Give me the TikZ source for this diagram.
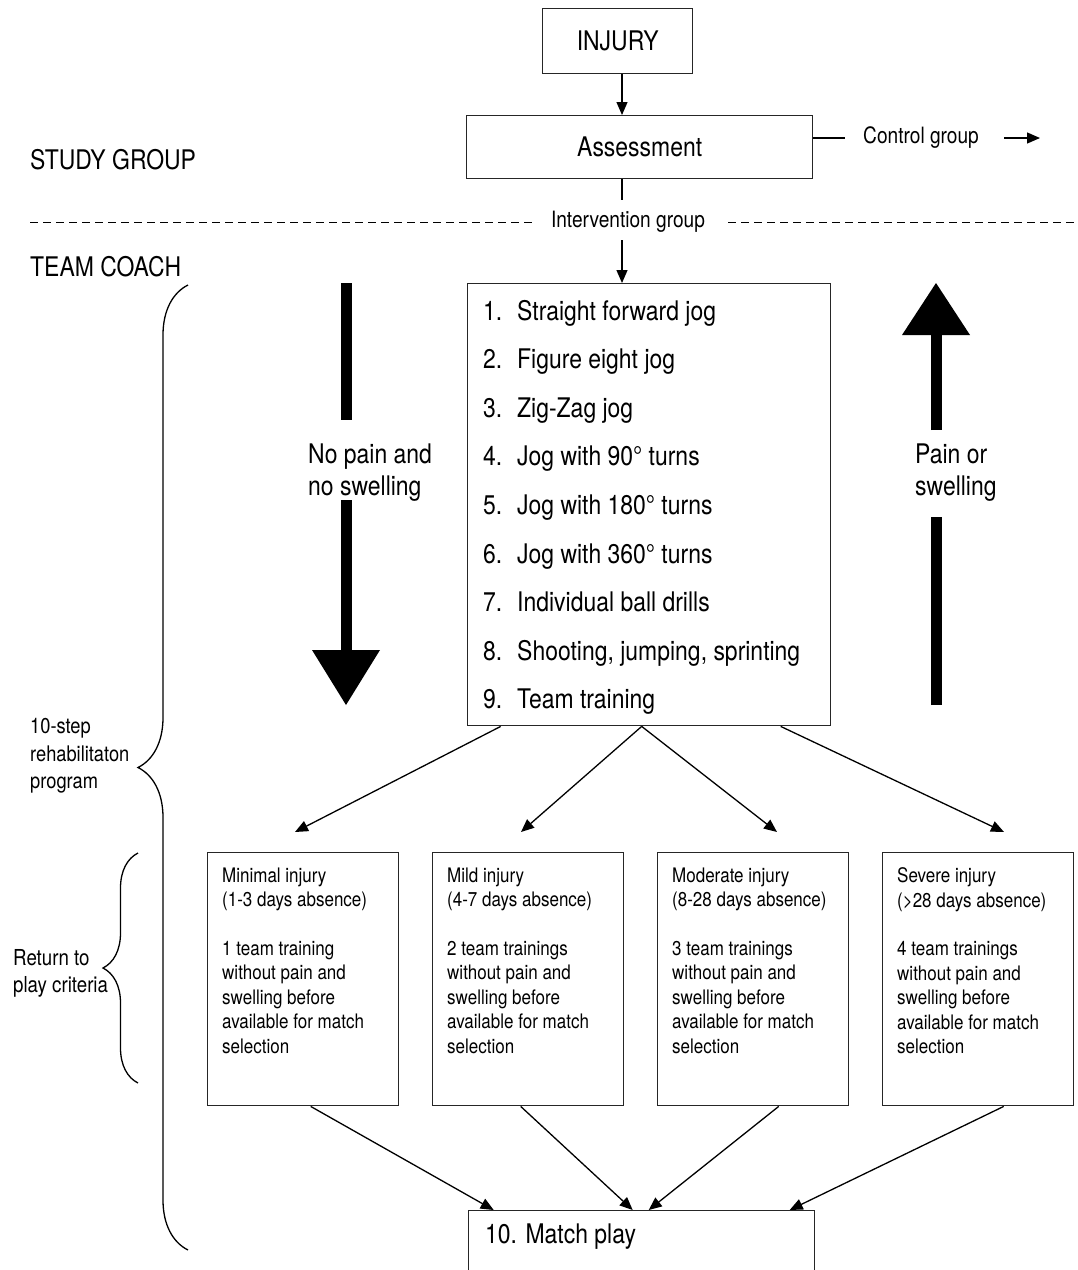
\documentclass[tikz,border=0pt]{standalone}
\usepackage{fontspec}
\setmainfont{TeX Gyre Heros}[FakeStretch=0.85]
\usetikzlibrary{arrows.meta,decorations.pathreplacing}
\begin{document}
\begin{tikzpicture}[x=1pt,y=-1pt,
  bx/.style={draw=black!85, line width=1.4pt, inner sep=0pt},
  bigt/.style={font=\fontsize{27}{32}\selectfont, inner sep=0pt},
  medt/.style={font=\fontsize{22.5}{27.5}\selectfont, inner sep=0pt},
  smlt/.style={font=\fontsize{20}{24.4}\selectfont, inner sep=0pt, align=left},
  arr/.style={line width=1.3pt, -{Triangle[length=13pt,width=11pt]}},
  dline/.style={line width=1pt, dash pattern=on 8pt off 5pt},
  shaft/.style={line width=11pt},
  bracestyle/.style={line width=1.3pt, decorate},
]
\useasboundingbox (0,0) rectangle (1078,1270);
\clip (0,0) rectangle (1078,1270);

% top boxes
\node[bx, bigt, minimum width=150pt, minimum height=65pt, anchor=north west] (injury) at (542,8) {INJURY};
\node[bx, bigt, minimum width=346pt, minimum height=63pt, anchor=north west] (assess) at (466,115) {Assessment};
\draw[arr] (injury.south -| 622,0) -- (assess.north -| 622,0);

\node[medt, anchor=west] (cg) at (863,138) {Control group};
\coordinate (cgend) at (1040,138);
\draw[line width=1.3pt, shorten >=18pt] (assess.east |- cg.west) -- (cg.west);
\draw[arr, shorten <=25pt] (cg.east) -- (cgend);

\node[bigt, anchor=west] (study) at (30,160) {STUDY GROUP};
\node[bigt, anchor=west] (coach) at (30,267) {TEAM COACH};

% intervention
\node[medt, anchor=center] (ig) at (628,222) {Intervention group};
\coordinate (dl) at (30,222);
\coordinate (dr) at (1078,222);
\coordinate (assdown) at (622,200);
\draw[line width=1.3pt] (assess.south -| assdown) -- (assdown);
\draw[dline, shorten >=16pt] (dl) -- (ig.west);
\draw[dline, shorten <=23pt] (ig.east) -- (dr);

% steps box
\node[bx, minimum width=363pt, minimum height=442pt, anchor=north west] (steps) at (467,283) {};
\coordinate (igdown) at (622,240);
\draw[arr] (igdown) -- (steps.north -| igdown);

\foreach \t [count=\i] in {Straight forward jog, Figure eight jog, Zig-Zag jog, Jog with 90° turns, Jog with 180° turns, Jog with 360° turns, Individual ball drills, {Shooting, jumping, sprinting}, Team training}{
  \pgfmathsetmacro\yy{320+48.6*(\i-1)}
  \node[bigt, anchor=base west] (num\i) at (483,\yy) {\i.};
  \node[bigt, anchor=base west] (item\i) at (517,\yy) {\t};
}

% big arrows
\node[bigt, align=left, anchor=west] (nopain) at (308,473) {No pain and\\no swelling};
\node[bigt, align=left, anchor=west] (pain) at (915,473) {Pain or\\swelling};
\draw[shaft] (346,283) -- (346,420);
\draw[shaft] (346,500) -- (346,652);
\fill (312,650) -- (380,650) -- (346,705) -- cycle;
\draw[shaft] (936,705) -- (936,517);
\draw[shaft] (936,430) -- (936,333);
\fill (902,335) -- (970,335) -- (936,283) -- cycle;

% left labels and braces
\node[medt, align=left, anchor=west, font=\fontsize{21.5}{27.5}\selectfont] (tenstep) at (30,756) {10-step\\rehabilitaton\\program};
\draw[bracestyle, decoration={brace, amplitude=50pt}] (188,1250) -- (188,285);
\node[medt, align=left, anchor=west, font=\fontsize{22}{27}\selectfont] (rtp) at (13,973) {Return to\\play criteria};
\draw[bracestyle, decoration={brace, amplitude=35pt}] (138,1083) -- (138,853);

% criteria boxes
\node[bx, minimum width=191pt, minimum height=253pt, anchor=north west] (c1) at (207,852) {};
\node[bx, minimum width=191pt, minimum height=253pt, anchor=north west] (c2) at (432,852) {};
\node[bx, minimum width=191pt, minimum height=253pt, anchor=north west] (c3) at (657,852) {};
\node[bx, minimum width=191pt, minimum height=253pt, anchor=north west] (c4) at (882,852) {};

\node[smlt, anchor=north west] (t1) at (222,867.5) {Minimal injury\\(1-3 days absence)\\[24.4pt]1 team training\\without pain and\\swelling before\\available for match\\selection};
\node[smlt, anchor=north west] (t2) at (447,867.5) {Mild injury\\(4-7 days absence)\\[24.4pt]2 team trainings\\without pain and\\swelling before\\available for match\\selection};
\node[smlt, anchor=north west] (t3) at (672,867.5) {Moderate injury\\(8-28 days absence)\\[24.4pt]3 team trainings\\without pain and\\swelling before\\available for match\\selection};
\node[smlt, anchor=north west] (t4) at (897,867.5) {Severe injury\\(>28 days absence)\\[24.4pt]4 team trainings\\without pain and\\swelling before\\available for match\\selection};

% arrows from steps
\coordinate (a1) at (295,832);
\coordinate (a2) at (521,832);
\coordinate (a3) at (777,832);
\coordinate (a4) at (1004,832);
\draw[arr] ([xshift=-148.5pt]steps.south) -- (a1);
\draw[arr] ([xshift=-7.5pt]steps.south) -- (a2);
\draw[arr] ([xshift=-7.5pt]steps.south) -- (a3);
\draw[arr] ([xshift=131.5pt]steps.south) -- (a4);

% match play
\node[bx, minimum width=346pt, minimum height=100pt, anchor=north west] (match) at (468,1210) {};
\node[bigt, anchor=base west] (matchtxt) at (485,1243) {10. Match play};
\draw[arr] ([xshift=7.5pt]c1.south) -- ([xshift=-148pt]match.north);
\draw[arr] ([xshift=-7.5pt]c2.south) -- ([xshift=-9pt]match.north);
\draw[arr] ([xshift=25.5pt]c3.south) -- ([xshift=7pt]match.north);
\draw[arr] ([xshift=25.5pt]c4.south) -- ([xshift=148pt]match.north);
\end{tikzpicture}
\end{document}
